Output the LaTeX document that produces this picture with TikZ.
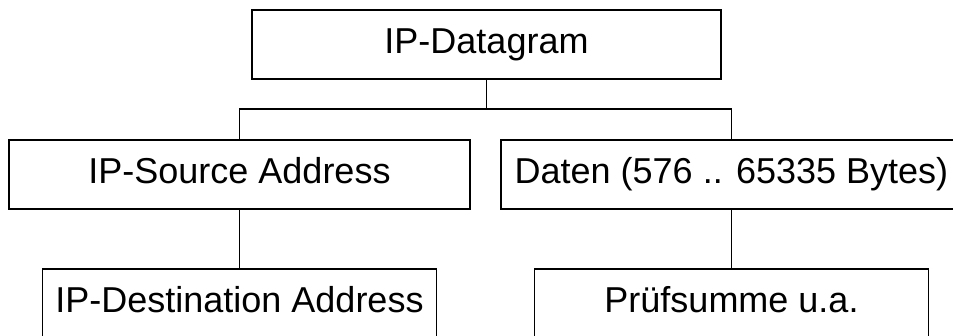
\documentclass[tikz,border=0pt]{standalone}
\usepackage{fontspec}
\setmainfont{Liberation Sans}
\usepackage{tikz}
\usetikzlibrary{positioning}
\tikzset{
  feld/.style = {rectangle, draw=black, line width=1.3pt, inner sep=0pt,
    align=center, minimum height=69pt, text height=26pt, text depth=7pt,
    font=\fontsize{36}{40}\selectfont},% ein Feld des Pakets
  feld_breit/.style = {feld, minimum width=461pt},% zweite Ebene
  feld_schmal/.style = {feld, minimum width=394pt},% dritte Ebene
  verbindung/.style = {draw=black, line width=1.3pt}
}
\begin{document}
\begin{tikzpicture}[x=1pt,y=1pt]
\useasboundingbox (0,0) rectangle (953,336);
\clip (0,0) rectangle (953,336);
\node [feld, minimum width=469pt] (datagram) at (486.5,291.5) {IP-Datagram};
\node [feld_breit] (source) at (239.5,161.5) {IP-Source Address};
\node [feld_breit] (daten) at (731.5,161.5) {Daten (576 .. 65335 Bytes)};
\node [feld_schmal] (destination) at (239.5,32.5) {IP-Destination Address};
\node [feld_schmal] (pruefsumme) at (731.5,32.5) {Prüfsumme u.a.};
\coordinate (gabel) at (486.5,227);% Verzweigung
\draw [verbindung] (datagram.south) -- (gabel);
\draw [verbindung] (source.north) |- (gabel) -| (daten.north);
\draw [verbindung] (source.south) -- (destination.north);
\draw [verbindung] (daten.south) -- (pruefsumme.north);
\end{tikzpicture}
\end{document}
